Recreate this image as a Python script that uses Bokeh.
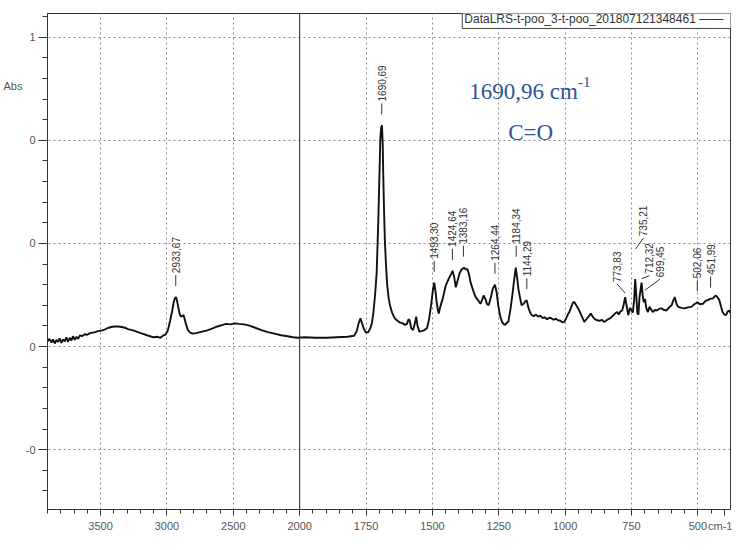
import numpy as np
from bokeh.plotting import figure
from bokeh.models import Range1d, FixedTicker, Span, Label, LinearAxis
from bokeh.embed import file_html
from bokeh.resources import INLINE
from bokeh.core.properties import value

# ---------------- data ----------------
wavenumber = [3900, 3885, 3870, 3858, 3845, 3832, 3820, 3808, 3795, 3782, 3770, 3758, 3745, 3732,
              3720, 3708, 3695, 3682, 3670, 3655, 3640, 3620, 3600, 3580, 3560, 3540, 3520, 3493,
              3470, 3445, 3420, 3395, 3367, 3340, 3310, 3293, 3250, 3197, 3150, 3101, 3070, 3049,
              3030, 3012, 2995, 2975, 2960, 2950, 2940, 2933, 2925, 2916, 2905, 2895, 2886, 2875,
              2865, 2855, 2842, 2825, 2805, 2780, 2750, 2702, 2660, 2620, 2580, 2554, 2520, 2490,
              2458, 2420, 2384, 2340, 2288, 2240, 2190, 2140, 2090, 2050, 2015, 1980, 1940, 1900,
              1860, 1820, 1795, 1785, 1778, 1771, 1765, 1758, 1750, 1742, 1735, 1728, 1722, 1716,
              1710, 1704, 1700, 1696, 1693, 1690, 1687, 1685, 1682, 1679, 1675, 1670, 1665, 1660,
              1652, 1642, 1632, 1623, 1612, 1603, 1596, 1590, 1586, 1580, 1573, 1566, 1561, 1556,
              1549, 1540, 1530, 1520, 1512, 1505, 1498, 1493, 1488, 1484, 1479, 1476, 1470, 1461,
              1450, 1439, 1430, 1424, 1418, 1412, 1405, 1397, 1389, 1381, 1375, 1368, 1362, 1356,
              1346, 1337, 1328, 1319, 1313, 1307, 1300, 1294, 1288, 1280, 1272, 1264, 1258, 1252,
              1245, 1238, 1230, 1226, 1220, 1214, 1206, 1199, 1192, 1186, 1180, 1176, 1170, 1164,
              1156, 1150, 1145, 1138, 1132, 1126, 1118, 1110, 1102, 1094, 1085, 1077, 1068, 1060,
              1052, 1044, 1035, 1027, 1018, 1010, 1003, 996, 990, 984, 976, 970, 965, 958,
              952, 947, 940, 934, 928, 920, 912, 903, 896, 888, 879, 870, 862, 854,
              846, 838, 829, 820, 812, 804, 798, 792, 785, 780, 774, 768, 762, 756,
              750, 745, 740, 736, 732, 728, 724, 720, 712, 708, 704, 699, 694, 688,
              682, 676, 670, 662, 655, 646, 637, 628, 618, 608, 599, 592, 587, 580,
              574, 562, 550, 538, 525, 513, 502, 492, 481, 472, 463, 452, 444, 437,
              432, 425, 419, 413, 407, 400, 394, 388, 382, 377]
absorbance = [0.010, 0.015, 0.008, 0.014, 0.006, 0.013, 0.009, 0.016, 0.007, 0.014, 0.010, 0.018, 0.009, 0.017,
              0.012, 0.020, 0.013, 0.019, 0.015, 0.022, 0.020, 0.024, 0.023, 0.026, 0.027, 0.028, 0.030, 0.031,
              0.033, 0.036, 0.038, 0.039, 0.039, 0.038, 0.036, 0.034, 0.031, 0.026, 0.022, 0.018, 0.019, 0.017,
              0.021, 0.023, 0.030, 0.051, 0.070, 0.085, 0.094, 0.096, 0.090, 0.078, 0.064, 0.058, 0.059, 0.061,
              0.052, 0.042, 0.032, 0.027, 0.025, 0.026, 0.028, 0.031, 0.035, 0.039, 0.042, 0.044, 0.043, 0.045,
              0.044, 0.043, 0.041, 0.037, 0.032, 0.028, 0.025, 0.022, 0.020, 0.018, 0.017, 0.018, 0.017, 0.017,
              0.018, 0.019, 0.021, 0.030, 0.045, 0.055, 0.045, 0.034, 0.027, 0.028, 0.034, 0.045, 0.067, 0.100,
              0.143, 0.240, 0.322, 0.405, 0.425, 0.429, 0.390, 0.330, 0.260, 0.205, 0.160, 0.118, 0.095, 0.080,
              0.066, 0.055, 0.050, 0.047, 0.045, 0.042, 0.044, 0.053, 0.051, 0.036, 0.032, 0.045, 0.058, 0.040,
              0.029, 0.030, 0.032, 0.036, 0.055, 0.080, 0.110, 0.124, 0.105, 0.086, 0.070, 0.064, 0.078, 0.093,
              0.118, 0.131, 0.140, 0.147, 0.135, 0.115, 0.128, 0.143, 0.150, 0.153, 0.150, 0.150, 0.140, 0.124,
              0.108, 0.096, 0.090, 0.083, 0.090, 0.099, 0.092, 0.082, 0.080, 0.095, 0.113, 0.120, 0.105, 0.080,
              0.060, 0.048, 0.043, 0.042, 0.046, 0.048, 0.072, 0.099, 0.130, 0.153, 0.130, 0.112, 0.095, 0.080,
              0.083, 0.088, 0.090, 0.075, 0.066, 0.061, 0.059, 0.062, 0.058, 0.060, 0.055, 0.057, 0.053, 0.056,
              0.055, 0.052, 0.054, 0.051, 0.050, 0.047, 0.048, 0.055, 0.062, 0.067, 0.078, 0.086, 0.086, 0.080,
              0.075, 0.070, 0.062, 0.055, 0.048, 0.053, 0.058, 0.064, 0.058, 0.053, 0.051, 0.050, 0.052, 0.048,
              0.050, 0.053, 0.055, 0.060, 0.064, 0.067, 0.062, 0.068, 0.070, 0.080, 0.096, 0.078, 0.061, 0.075,
              0.070, 0.066, 0.090, 0.131, 0.100, 0.065, 0.062, 0.095, 0.124, 0.100, 0.086, 0.092, 0.074, 0.067,
              0.077, 0.072, 0.067, 0.071, 0.070, 0.073, 0.074, 0.071, 0.070, 0.076, 0.080, 0.090, 0.096, 0.082,
              0.077, 0.075, 0.074, 0.076, 0.077, 0.082, 0.086, 0.082, 0.083, 0.088, 0.090, 0.093, 0.093, 0.097,
              0.099, 0.095, 0.090, 0.078, 0.067, 0.062, 0.061, 0.068, 0.070, 0.065]

x_tick_values = [3500, 3000, 2500, 2000, 1750, 1500, 1250, 1000, 750, 500]
x_tick_labels = ["3500", "3000", "2500", "2000", "1750", "1500", "1250", "1000", "750", "500"]
y_tick_values = [0.6, 0.4, 0.2, 0, -0.2]
y_tick_labels = ["1", "0", "0", "0", "-0"]

peak_labels = ["2933,67", "1690,69", "1493,30", "1424,64", "1383,16", "1264,44", "1184,34",
               "1144,29", "773,83", "735,21", "712,32", "699,45", "502,06", "451,99"]

legend_text = "DataLRS-t-poo_3-t-poo_201807121348461"
band_text = "1690,96 cm"
band_sup = "-1"
band_name = "C=O"
y_axis_title = "Abs"
x_axis_title = "cm-1"

# ---------------- scale: wavenumber axis compressed x2 above 2000 ----------------
BREAK = 2000.0


def to_axis(w):
    w = np.asarray(w, dtype=float)
    return np.where(w > BREAK, BREAK + (w - BREAK) / 2.0, w)


X_START, X_END = float(to_axis(3900)), float(to_axis(377))
Y_START, Y_END = -0.316, 0.646

W, H = 732, 534
BL, BR, BT, BB = 45, 2, 13, 23
FRAME_W = W - BL - BR
FRAME_H = H - BT - BB
PPX = FRAME_W / (X_START - X_END)   # px per axis unit
PPY = FRAME_H / (Y_END - Y_START)   # px per absorbance unit


# helpers to place annotations by canvas pixel
def sx_to_u(sx):
    return X_START - (sx - BL) / PPX


def sy_to_v(sy):
    return Y_END - (sy - BT) / PPY


p = figure(width=W, height=H, output_backend="svg", toolbar_location=None,
           x_range=Range1d(X_START, X_END), y_range=Range1d(Y_START, Y_END),
           min_border_left=BL, min_border_right=BR, min_border_top=BT, min_border_bottom=BB,
           background_fill_color="white", border_fill_color="white")
p.outline_line_color = "#333333"
p.outline_line_width = 1

# ticks (x axis also carries the unit "cm-1" at its right end)
x_major = [float(v) for v in to_axis(x_tick_values)]
u_unit = float(round(sx_to_u(724), 1))
x_minor = [float(v) for v in np.arange(X_START, X_END - 1, -50.0)]
p.xaxis.ticker = FixedTicker(ticks=x_major + [u_unit], minor_ticks=x_minor)
overrides = {m: l for m, l in zip(x_major, x_tick_labels)}
overrides[u_unit] = x_axis_title
p.xaxis.major_label_overrides = overrides
y_minor = [float(v) for v in np.round(np.arange(-0.28, 0.641, 0.04), 2)]
p.yaxis.ticker = FixedTicker(ticks=y_tick_values, minor_ticks=y_minor)
p.yaxis.major_label_overrides = {m: l for m, l in zip(y_tick_values, y_tick_labels)}

for ax in (p.xaxis[0], p.yaxis[0]):
    ax.axis_line_color = "#333333"
    ax.major_tick_line_color = "#333333"
    ax.minor_tick_line_color = "#333333"
    ax.major_tick_in = 0
    ax.minor_tick_in = 0
    ax.major_label_text_font = "Liberation Sans"
    ax.major_label_text_font_size = "11px"
    ax.major_label_text_color = "#555555"
p.xaxis.major_tick_out = 6
p.xaxis.minor_tick_out = 4
p.xaxis.major_label_standoff = 4
p.yaxis.major_tick_out = 9
p.yaxis.minor_tick_out = 5
p.yaxis.major_label_standoff = 3

# "Abs" title as a second, line-less left axis carrying one label
v_abs = float(round(sy_to_v(86), 4))
abs_axis = LinearAxis(ticker=FixedTicker(ticks=[v_abs]), major_label_overrides={v_abs: y_axis_title},
                      axis_line_color=None, major_tick_line_color=None, minor_tick_line_color=None,
                      major_tick_out=0, minor_tick_out=0, major_tick_in=0, minor_tick_in=0,
                      major_label_standoff=0, major_label_text_font="Liberation Sans",
                      major_label_text_font_size="11px", major_label_text_color="#555555")
p.add_layout(abs_axis, "left")

# grid
p.xgrid.ticker = FixedTicker(ticks=[v for v in x_major if v != BREAK])
p.ygrid.ticker = FixedTicker(ticks=y_tick_values)
for g in (p.xgrid[0], p.ygrid[0]):
    g.grid_line_color = "#8a8a8a"
    g.grid_line_dash = "2 3"
    g.grid_line_width = 1

# scale break line at 2000
p.add_layout(Span(location=BREAK, dimension="height", line_color="#222222", line_width=1))

# spectrum
wn = np.array(wavenumber, dtype=float)
ab = np.array(absorbance, dtype=float)
p.line(to_axis(wn), ab, line_color="#111111", line_width=1.9)

# peak labels: text rises `rise` px above the peak, shifted `dx` px sideways
DEFAULT_RISE = 24
layout = {"773,83": (-8, 15), "735,21": (8, 43), "712,32": (8, 9), "699,45": (15, 22)}
tx, ty, txt, lx0, ly0, lx1, ly1 = [], [], [], [], [], [], []
for lbl in peak_labels:
    w = float(lbl.replace(",", "."))
    mask = np.abs(wn - w) <= 5
    pk = ab[mask].max() if mask.any() else float(np.interp(-w, -wn, ab))
    u = float(to_axis(w))
    dx, rise = layout.get(lbl, (0, DEFAULT_RISE))
    xt = u - dx / PPX
    top = rise - 2
    bottom = max(4, top - 11)
    lx0.append(u); ly0.append(pk + bottom / PPY)
    lx1.append(xt); ly1.append(pk + top / PPY)
    tx.append(xt); ty.append(pk + rise / PPY); txt.append(lbl)
p.segment(lx0, ly0, lx1, ly1, line_color="#333333", line_width=1)
p.text(tx, ty, text=txt, angle=np.pi / 2, text_align="left", text_baseline="middle",
       text_font=value("Liberation Sans"), text_font_size="10px", text_color="#333333")

# band annotation
p.add_layout(Label(x=sx_to_u(468), y=sy_to_v(91), text=band_text, text_font="Liberation Serif",
                   text_font_size="23px", text_color="#2f5597", text_baseline="alphabetic"))
p.add_layout(Label(x=sx_to_u(577), y=sy_to_v(82), text=band_sup, text_font="Liberation Serif",
                   text_font_size="15px", text_color="#2f5597", text_baseline="alphabetic"))
p.add_layout(Label(x=sx_to_u(507), y=sy_to_v(132), text=band_name, text_font="Liberation Serif",
                   text_font_size="23px", text_color="#2f5597", text_baseline="alphabetic"))

# legend box
p.add_layout(Label(x=sx_to_u(461), y=sy_to_v(19), text=legend_text + "   \u2014\u2014",
                   text_font="Liberation Sans", text_font_size="12px", text_color="#333333",
                   text_baseline="middle", padding=2, border_line_color="#444444",
                   border_line_width=1, background_fill_color="white"))

open("out.html", "w").write(file_html(p, INLINE))
